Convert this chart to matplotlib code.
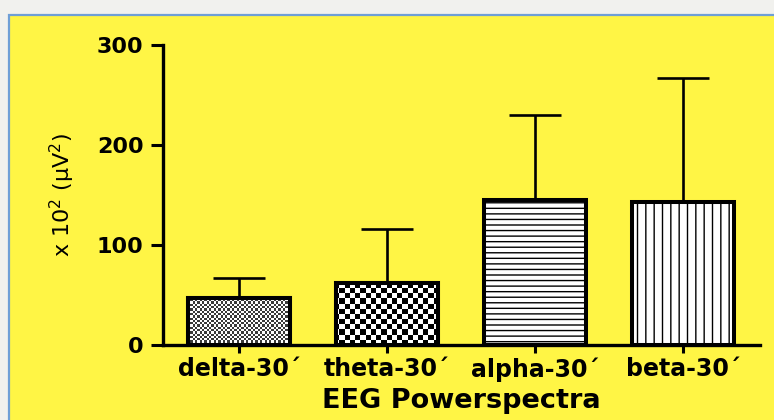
import matplotlib
matplotlib.use("Agg")
import matplotlib.pyplot as plt
from matplotlib.patches import Rectangle
import numpy as np

# data
bands = ["delta-30\u00b4", "theta-30\u00b4", "alpha-30\u00b4", "beta-30\u00b4"]
power = [47, 62, 145, 143]
power_err = [20, 54, 85, 124]
y_ticks = [0, 100, 200, 300]

yellow = "#fff545"
plt.rcParams["hatch.linewidth"] = 1.0
plt.rcParams["hatch.color"] = "#5a5a5a"

fig = plt.figure(figsize=(7.74, 4.2), dpi=100, facecolor="#f1f1ee")
# yellow panel with thin blue border, like the screenshot frame
fig.patches.append(Rectangle((8.5 / 774, -0.01), 1.0, (420 - 14.5) / 420 + 0.01,
                             transform=fig.transFigure, facecolor=yellow,
                             edgecolor="#6f9fd6", linewidth=1.6, zorder=-5))

ax = fig.add_axes([163 / 774, 75 / 420, (760 - 163) / 774, 300 / 420])
ax.set_facecolor("none")

x = np.arange(len(bands))
bars = ax.bar(x, power, width=0.69, facecolor="white", edgecolor="black",
              linewidth=2.9, zorder=3)
ax.errorbar(x, power, yerr=[np.zeros(len(power)), power_err], fmt="none",
            ecolor="black", elinewidth=1.9, capsize=18.5, capthick=1.9, zorder=2)

ax.set_xlim(-0.515, 3.52)
ax.set_ylim(0, 300)

# checkerboard fills for delta and theta, hatching for alpha and beta
def checker(cell_px, dark):
    w = int(597 / cell_px) + 1
    h = int(300 / cell_px) + 1
    grid = (np.add.outer(np.arange(h), np.arange(w)) % 2).astype(float)
    img = np.where(grid[..., None] > 0, np.array(matplotlib.colors.to_rgb(dark)),
                   np.array([1.0, 1.0, 1.0]))
    return img

for idx, cell, dark in [(0, 2.3, "#3a3a3a"), (1, 5.2, "black")]:
    im = ax.imshow(checker(cell, dark), extent=(-0.515, 3.52, 0, 300),
                   interpolation="nearest", aspect="auto", zorder=3.5)
    im.set_clip_path(bars[idx])
ax.set_xlim(-0.515, 3.52)
ax.set_ylim(0, 300)

bars[2].set_hatch("---")
bars[3].set_hatch("||")
for b in bars[2:]:
    if hasattr(b, "set_hatchcolor"):
        b.set_hatchcolor("#5a5a5a")

# redraw the edges of the checker bars on top of the images
for idx in [0, 1]:
    b = bars[idx]
    ax.add_patch(Rectangle(b.get_xy(), b.get_width(), b.get_height(),
                           facecolor="none", edgecolor="black", linewidth=2.9, zorder=4))

ax.spines["top"].set_visible(False)
ax.spines["right"].set_visible(False)
for s in ["left", "bottom"]:
    ax.spines[s].set_linewidth(2.4)
    ax.spines[s].set_zorder(5)

ax.set_yticks(y_ticks)
ax.set_xticks(x)
ax.set_xticklabels(bands)
ax.tick_params(axis="y", length=9, width=2.2, pad=5, labelsize=16)
ax.tick_params(axis="x", length=6, width=2.2, pad=3, labelsize=17)
for lab in ax.get_xticklabels() + ax.get_yticklabels():
    lab.set_fontweight("bold")

ax.set_ylabel(r"$\mathregular{x\ 10^2\ (\mu V^2)}$", fontsize=16, labelpad=14)
ax.set_xlabel("EEG Powerspectra", fontsize=19.5, fontweight="bold", labelpad=4)

fig.savefig("out.png", dpi=100, facecolor=fig.get_facecolor())
